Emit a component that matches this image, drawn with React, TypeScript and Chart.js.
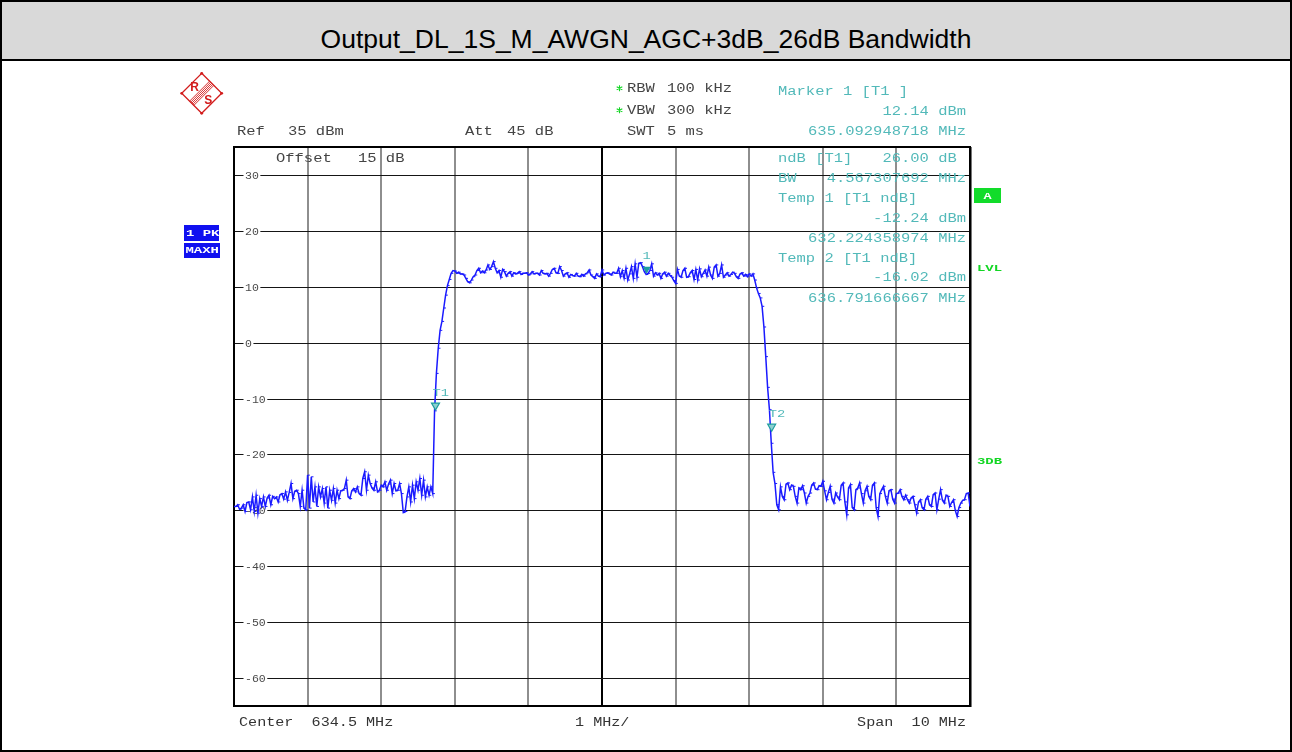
import React, { useEffect, useRef } from 'react';
import { Chart, registerables } from 'chart.js';

Chart.register(...registerables);

// ---- data ----
const titleText = 'Output_DL_1S_M_AWGN_AGC+3dB_26dB Bandwidth';
const sweepStartMHz = 629.5;
const sweepStopMHz = 639.5;
const refLevelDbm = 35;
const bottomLevelDbm = -65;
const gridFreqsMHz = [630.5, 631.5, 632.5, 633.5, 634.5, 635.5, 636.5, 637.5, 638.5];
const centerFreqMHz = 634.5;
const gridLevelsDbm = [30, 20, 10, 0, -10, -20, -30, -40, -50, -60];
const levelTickLabels = ['30', '20', '10', '0', '-10', '-20', '-30', '-40', '-50', '-60'];

// trace (max hold), one value per sweep point across the 10 MHz span
const traceLevelsDbm = [
  -29.3, -29.3, -29.0, -29.8, -29.6, -29.0, -30.2, -28.6, -28.5, -29.9,
  -27.6, -30.2, -27.3, -30.5, -27.9, -29.3, -27.6, -29.3, -27.8, -27.3,
  -29.0, -27.5, -27.9, -27.6, -28.5, -27.2, -27.0, -28.0, -26.7, -28.2,
  -26.8, -25.2, -27.9, -26.6, -26.4, -27.0, -29.3, -26.4, -29.6, -29.9,
  -23.7, -29.6, -24.0, -28.5, -25.8, -29.3, -25.8, -27.6, -26.1, -28.7,
  -25.8, -29.6, -26.4, -28.2, -26.1, -28.7, -26.4, -27.9, -26.5, -26.4,
  -26.1, -24.6, -27.6, -27.9, -26.5, -26.1, -26.7, -25.8, -27.0, -27.3,
  -24.3, -23.1, -26.4, -23.7, -25.2, -26.0, -26.4, -24.9, -26.7, -26.4,
  -25.5, -25.8, -24.9, -26.4, -25.3, -24.6, -27.0, -25.2, -26.5, -26.4,
  -25.2, -27.0, -30.4, -30.2, -27.6, -25.8, -28.5, -25.5, -27.9, -24.9,
  -26.4, -24.3, -27.3, -24.6, -27.6, -25.8, -27.3, -25.8, -27.0, -12.2,
  -5.5, -1.0, 2.2, 3.8, 6.2, 8.5, 10.2, 11.3, 12.4, 12.9,
  12.8, 12.4, 12.6, 12.3, 12.3, 12.1, 11.5, 10.9, 10.7, 11.2,
  11.8, 12.1, 12.9, 13.3, 12.5, 12.8, 12.5, 13.0, 13.9, 13.1,
  13.6, 14.5, 13.3, 12.5, 12.9, 11.7, 13.1, 12.7, 11.9, 12.4,
  12.7, 11.9, 12.5, 12.3, 12.4, 12.7, 12.2, 12.4, 12.4, 12.5,
  12.1, 12.3, 12.7, 12.3, 12.4, 12.4, 12.1, 12.9, 12.4, 12.3,
  12.4, 11.9, 12.4, 13.1, 13.3, 12.5, 12.4, 13.6, 12.9, 11.9,
  12.3, 12.5, 11.7, 12.2, 12.0, 11.9, 12.4, 11.9, 11.8, 12.2,
  11.9, 12.3, 12.5, 13.0, 12.1, 11.8, 11.5, 12.3, 11.9, 11.8,
  13.0, 12.1, 12.4, 12.5, 12.3, 12.1, 12.6, 12.4, 12.4, 13.3,
  11.8, 12.9, 11.5, 13.3, 11.2, 12.3, 13.6, 11.5, 14.1, 11.7,
  14.2, 14.3, 13.6, 12.7, 12.2, 12.4, 12.9, 14.1, 11.9, 12.5,
  12.1, 12.4, 11.5, 12.3, 12.6, 11.9, 12.4, 12.0, 11.7, 11.1,
  10.6, 13.1, 11.9, 11.7, 12.9, 13.3, 11.7, 11.8, 12.5, 12.9,
  11.3, 13.1, 11.2, 13.2, 11.8, 12.4, 13.0, 11.9, 13.5, 12.1,
  11.5, 13.5, 13.9, 11.9, 12.4, 13.9, 11.7, 12.1, 12.5, 11.9,
  12.2, 12.6, 12.4, 11.8, 11.5, 12.3, 12.5, 11.9, 12.2, 11.8,
  12.3, 11.9, 12.3, 11.2, 9.8, 8.8, 8.0, 6.5, 2.8, -2.5,
  -8.0, -12.0, -18.0, -23.2, -25.2, -29.0, -29.9, -25.8, -27.5, -28.1,
  -25.3, -25.1, -26.3, -25.5, -25.7, -27.5, -28.7, -26.0, -26.3, -25.6,
  -26.9, -28.7, -27.5, -26.9, -25.5, -25.1, -26.2, -26.3, -25.6, -25.7,
  -24.8, -26.5, -28.1, -26.8, -25.7, -28.0, -28.7, -26.9, -27.6, -28.1,
  -25.5, -25.1, -28.5, -30.8, -26.0, -25.4, -29.5, -29.9, -26.3, -26.0,
  -25.1, -27.0, -28.7, -26.5, -25.7, -27.5, -28.1, -25.5, -25.1, -29.5,
  -31.1, -27.0, -26.3, -25.7, -27.5, -28.7, -26.5, -26.3, -28.0, -28.7,
  -27.0, -26.9, -26.3, -27.5, -28.1, -27.3, -28.1, -28.7, -27.8, -27.5,
  -29.0, -30.5, -28.5, -28.1, -29.5, -29.9, -28.0, -27.5, -29.0, -29.3,
  -27.2, -26.9, -29.9, -28.0, -26.3, -28.2, -28.7, -27.3, -27.5, -29.3,
  -28.6, -28.1, -30.0, -31.1, -29.5, -28.7, -28.2, -28.1, -27.0, -26.9,
  -29.3,
];

const markerNames = ['T1', '1', 'T2'];
const markerFreqsMHz = [632.224358974, 635.092948718, 636.791666667];
const markerLevelsDbm = [-12.24, 12.14, -16.02];

const markerInfoLeft = ['Marker 1 [T1 ]', '', '', 'ndB [T1]', 'BW', 'Temp 1 [T1 ndB]', '', '', 'Temp 2 [T1 ndB]', '', ''];
const markerInfoRight = ['', '12.14 dBm', '635.092948718 MHz', '26.00 dB ', '4.567307692 MHz', '', '-12.24 dBm', '632.224358974 MHz', '', '-16.02 dBm', '636.791666667 MHz'];

// ---- styling ----
const MONO = '"Liberation Mono", "DejaVu Sans Mono", monospace';
const TEAL_TEXT = '#52b9b9';
const TEAL_MARK = '#1f9e9e';
const GREEN = '#13d624';
const TRACE_BLUE = '#1a1aff';

type TOpt = { size?: number; color?: string; align?: CanvasTextAlign; sx?: number; weight?: string; family?: string };

function drawText(ctx: CanvasRenderingContext2D, s: string, x: number, y: number, o: TOpt = {}) {
  const size = o.size ?? 12;
  ctx.save();
  ctx.font = `${o.weight ?? 'normal'} ${size}px ${o.family ?? MONO}`;
  ctx.fillStyle = o.color ?? '#444';
  ctx.textAlign = o.align ?? 'left';
  ctx.textBaseline = 'alphabetic';
  ctx.translate(x, y + size * 0.32);
  ctx.scale(o.sx ?? 1.29, 1);
  ctx.fillText(s, 0, 0);
  ctx.restore();
}

function drawStar(ctx: CanvasRenderingContext2D, x: number, y: number) {
  ctx.save();
  ctx.strokeStyle = GREEN;
  ctx.lineWidth = 1.1;
  ctx.beginPath();
  ctx.moveTo(x, y - 3);
  ctx.lineTo(x, y + 3);
  ctx.moveTo(x - 2.8, y - 1.5);
  ctx.lineTo(x + 2.8, y + 1.5);
  ctx.moveTo(x - 2.8, y + 1.5);
  ctx.lineTo(x + 2.8, y - 1.5);
  ctx.stroke();
  ctx.restore();
}

const analyzerPlugin = {
  id: 'analyzerScreen',
  beforeDatasetsDraw(chart: any) {
    const { ctx, chartArea: a, scales } = chart;
    const xs = scales.x;
    const ys = scales.y;
    ctx.save();
    // vertical graticule
    gridFreqsMHz.forEach((f) => {
      const px = Math.round(xs.getPixelForValue(f));
      const isCenter = f === centerFreqMHz;
      ctx.strokeStyle = isCenter ? '#000' : '#5e5e5e';
      ctx.lineWidth = isCenter ? 2 : 1.4;
      ctx.beginPath();
      ctx.moveTo(px, a.top);
      ctx.lineTo(px, a.bottom);
      ctx.stroke();
    });
    // horizontal graticule with level labels
    gridLevelsDbm.forEach((v, k) => {
      const py = Math.round(ys.getPixelForValue(v)) + 0.5;
      const lab = levelTickLabels[k];
      ctx.font = `11px ${MONO}`;
      const w = ctx.measureText(lab).width * 1.05;
      const lx = a.left + 11;
      ctx.strokeStyle = '#151515';
      ctx.lineWidth = 1.2;
      ctx.beginPath();
      ctx.moveTo(a.left, py);
      ctx.lineTo(lx - 1.5, py);
      ctx.moveTo(lx + w + 1.5, py);
      ctx.lineTo(a.right, py);
      ctx.stroke();
      drawText(ctx, lab, lx, py, { size: 11, sx: 1.05, color: '#4a4a4a' });
    });
    // frame
    ctx.strokeStyle = '#000';
    ctx.lineWidth = 2;
    ctx.strokeRect(a.left, a.top, a.right - a.left, a.bottom - a.top);
    ctx.strokeStyle = '#777';
    ctx.lineWidth = 1;
    ctx.beginPath();
    ctx.moveTo(a.right + 1.5, a.top);
    ctx.lineTo(a.right + 1.5, a.bottom + 1);
    ctx.stroke();
    ctx.restore();
  },
  afterDatasetsDraw(chart: any) {
    const { ctx, chartArea: a, scales } = chart;
    const xs = scales.x;
    const ys = scales.y;
    ctx.save();
    // markers
    markerFreqsMHz.forEach((f, k) => {
      const px = xs.getPixelForValue(f);
      const py = ys.getPixelForValue(markerLevelsDbm[k]);
      const cx = px + 1;
      ctx.beginPath();
      ctx.moveTo(cx - 4, py - 8);
      ctx.lineTo(cx + 4, py - 8);
      ctx.lineTo(cx, py - 1);
      ctx.closePath();
      const name = markerNames[k];
      if (name === '1') {
        ctx.fillStyle = TEAL_MARK;
        ctx.fill();
      } else {
        ctx.fillStyle = '#8fd0d0';
        ctx.fill();
        ctx.strokeStyle = TEAL_MARK;
        ctx.lineWidth = 1.2;
        ctx.stroke();
      }
      if (name === '1') {
        drawText(ctx, name, px + 1, py - 19.5, { size: 11, sx: 1.25, color: TEAL_TEXT, align: 'center' });
      } else {
        drawText(ctx, name, px - 2, py - 19, { size: 11, sx: 1.25, color: TEAL_TEXT });
      }
    });

    // marker info block
    const rightEdge = a.right - 4;
    const rowY = [90.7, 110.7, 131, 157.7, 177.7, 197.7, 217.7, 237.7, 257.7, 277.5, 297.7];
    markerInfoLeft.forEach((s, k) => {
      if (s) drawText(ctx, s, 778, rowY[k], { color: TEAL_TEXT });
    });
    markerInfoRight.forEach((s, k) => {
      if (s) drawText(ctx, s, rightEdge, rowY[k], { color: TEAL_TEXT, align: 'right' });
    });

    // header settings
    drawText(ctx, 'Ref', 237, 130.7);
    drawText(ctx, '35 dBm', 288, 130.7);
    drawText(ctx, 'Att', 465, 130.7);
    drawText(ctx, '45 dB', 507, 130.7);
    drawStar(ctx, 619.5, 88.3);
    drawText(ctx, 'RBW', 627, 88.3);
    drawText(ctx, '100 kHz', 667, 88.3);
    drawStar(ctx, 619.5, 110.3);
    drawText(ctx, 'VBW', 627, 110.3);
    drawText(ctx, '300 kHz', 667, 110.3);
    drawText(ctx, 'SWT', 627, 131);
    drawText(ctx, '5 ms', 667, 131);
    drawText(ctx, 'Offset', 276, 158);
    drawText(ctx, '15 dB', 358, 158);

    // footer
    drawText(ctx, 'Center  634.5 MHz', 239, 722, { color: '#333', sx: 1.26 });
    drawText(ctx, '1 MHz/', 575, 722, { color: '#333', sx: 1.26 });
    drawText(ctx, 'Span  10 MHz', rightEdge, 722, { color: '#333', sx: 1.26, align: 'right' });

    // trace info boxes (left)
    ctx.fillStyle = '#1010f0';
    ctx.fillRect(184, 225, 35, 16);
    ctx.fillRect(184, 243, 36, 15);
    ctx.save();
    ctx.beginPath();
    ctx.rect(184, 225, 35, 16);
    ctx.clip();
    drawText(ctx, '1 PK', 186, 233, { size: 9, sx: 1.55, weight: 'bold', color: '#fff' });
    ctx.restore();
    drawText(ctx, 'MAXH', 185.5, 250.5, { size: 9, sx: 1.55, weight: 'bold', color: '#fff' });

    // right status labels
    ctx.fillStyle = '#12dc2a';
    ctx.fillRect(974, 188, 27, 15);
    drawText(ctx, 'A', 987.5, 196, { size: 9, sx: 1.5, weight: 'bold', color: '#fff', align: 'center' });
    drawText(ctx, 'LVL', 977, 268, { size: 9, sx: 1.55, weight: 'bold', color: GREEN });
    drawText(ctx, '3DB', 977, 461, { size: 9, sx: 1.55, weight: 'bold', color: GREEN });

    // R&S logo
    const cx = 201.7, cy = 93.3, r = 20;
    ctx.strokeStyle = '#d21c1c';
    ctx.fillStyle = '#d21c1c';
    ctx.lineWidth = 1.3;
    ctx.beginPath();
    ctx.moveTo(cx, cy - r);
    ctx.lineTo(cx + r, cy);
    ctx.lineTo(cx, cy + r);
    ctx.lineTo(cx - r, cy);
    ctx.closePath();
    ctx.stroke();
    [[0, -r], [r, 0], [0, r], [-r, 0]].forEach(([dx, dy]) => {
      ctx.beginPath();
      ctx.arc(cx + dx, cy + dy, 1.4, 0, Math.PI * 2);
      ctx.fill();
    });
    const k2 = Math.SQRT1_2;
    ctx.lineWidth = 0.9;
    [-3, -1.5, 0, 1.5, 3].forEach((s) => {
      const t = 14.1;
      ctx.beginPath();
      ctx.moveTo(cx + (s - t) * k2, cy + (s + t) * k2);
      ctx.lineTo(cx + (s + t) * k2, cy + (s - t) * k2);
      ctx.stroke();
    });
    drawText(ctx, 'R', cx - 7, cy - 6, { size: 12, sx: 1, weight: 'bold', color: '#d21c1c', family: '"Liberation Sans", Arial, sans-serif', align: 'center' });
    drawText(ctx, 'S', cx + 6.5, cy + 7, { size: 12, sx: 1, weight: 'bold', color: '#d21c1c', family: '"Liberation Sans", Arial, sans-serif', align: 'center' });
    ctx.restore();
  },
};

export default function App() {
  const canvasRef = useRef<HTMLCanvasElement>(null);

  useEffect(() => {
    const canvas = canvasRef.current;
    if (!canvas) return;
    const n = traceLevelsDbm.length;
    const step = (sweepStopMHz - sweepStartMHz) / (n - 1);
    const points = traceLevelsDbm.map((v, i) => ({ x: sweepStartMHz + i * step, y: v }));
    const chart = new Chart(canvas, {
      type: 'line',
      data: {
        datasets: [
          {
            data: points,
            borderColor: TRACE_BLUE,
            borderWidth: 1.5,
            pointStyle: 'dash',
            pointRadius: 2.2,
            pointBorderColor: TRACE_BLUE,
            pointBorderWidth: 1,
            pointHoverRadius: 0,
            tension: 0,
            fill: false,
          },
        ],
      },
      options: {
        responsive: false,
        maintainAspectRatio: false,
        animation: false,
        events: [],
        parsing: false,
        normalized: true,
        layout: { padding: { left: 234, top: 147, right: 322, bottom: 46 } },
        scales: {
          x: { type: 'linear', min: sweepStartMHz, max: sweepStopMHz, display: false },
          y: { type: 'linear', min: bottomLevelDbm, max: refLevelDbm, display: false },
        },
        plugins: {
          legend: { display: false },
          tooltip: { enabled: false },
          title: { display: false },
        },
      },
      plugins: [analyzerPlugin],
    } as any);
    return () => chart.destroy();
  }, []);

  return (
    <div style={{ position: 'fixed', left: 0, top: 0, width: 1292, height: 752, background: '#fff', overflow: 'hidden' }}>
      <canvas ref={canvasRef} width={1292} height={752} style={{ position: 'absolute', left: 0, top: 0, width: 1292, height: 752 }} />
      <div
        style={{
          position: 'absolute',
          left: 0,
          top: 0,
          width: 1292,
          height: 61,
          boxSizing: 'border-box',
          background: '#d9d9d9',
          borderBottom: '2px solid #000',
        }}
      >
        <div
          style={{
            position: 'absolute',
            left: 0,
            right: 0,
            top: 25.6,
            textAlign: 'center',
            fontFamily: '"Liberation Sans", Arial, sans-serif',
            fontSize: 26.5,
            lineHeight: '26.5px',
            color: '#000',
            whiteSpace: 'nowrap',
          }}
        >
          {titleText}
        </div>
      </div>
      <div
        style={{
          position: 'absolute',
          left: 0,
          top: 0,
          width: 1292,
          height: 752,
          boxSizing: 'border-box',
          border: '2px solid #000',
          pointerEvents: 'none',
        }}
      />
    </div>
  );
}
